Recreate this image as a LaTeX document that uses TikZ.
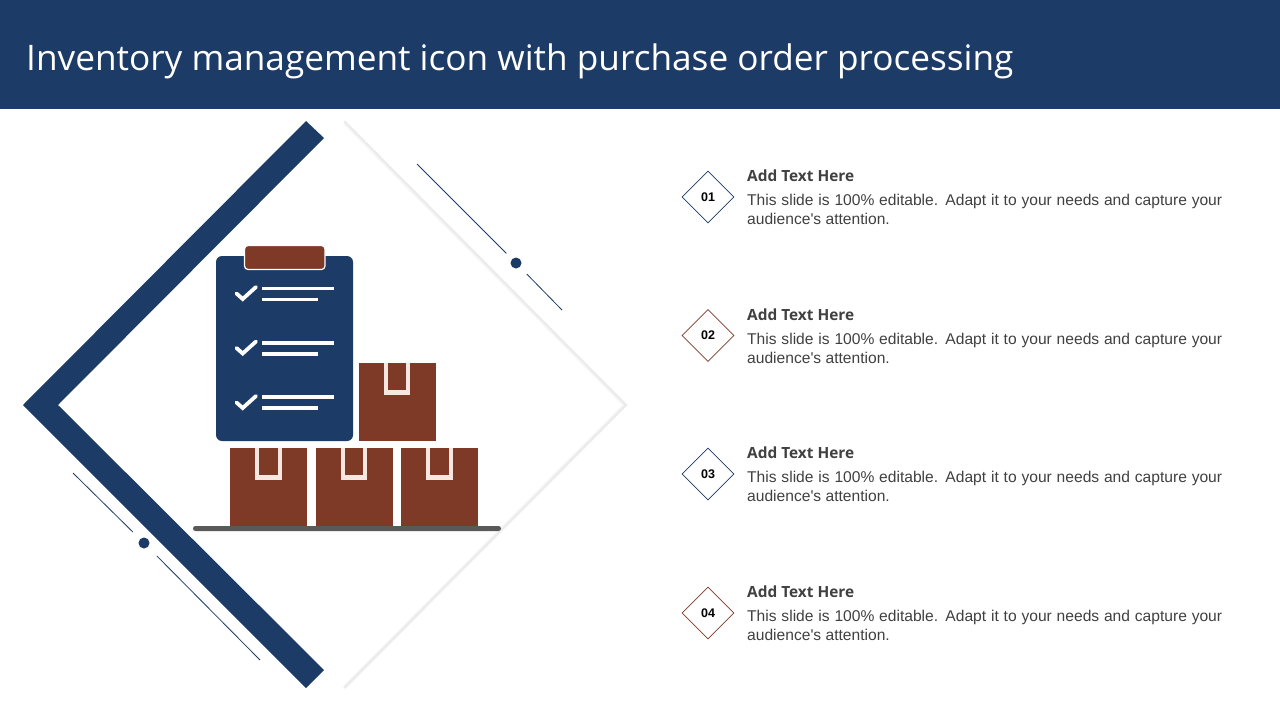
\documentclass[tikz,border=0pt]{standalone}
\usepackage{xcolor}
\usepackage{fontspec}
\setmainfont{Liberation Sans}
\newfontfamily\titlefont{Open Sans}
\usetikzlibrary{shapes.geometric}
\definecolor{navy}{HTML}{1C3B66}
\definecolor{rust}{HTML}{7F3A27}
\definecolor{ink}{HTML}{404040}
\definecolor{tapeline}{HTML}{F6E8E0}
\tikzstyle{boxbig} = [fill=rust, inner sep=0, minimum width=77, minimum height=78, anchor=north west]
\tikzstyle{tapeout} = [fill=tapeline, inner sep=0, minimum width=26.7, minimum height=31.3, anchor=north]
\tikzstyle{tapein} = [fill=rust, inner sep=0, minimum width=18.7, minimum height=27, anchor=north]
\tikzstyle{rowline} = [draw=white, line width=3.4]
\tikzstyle{tick} = [draw=white, line width=3.8, line cap=round, line join=miter]
\tikzstyle{dotmark} = [circle, fill=navy, inner sep=0, minimum size=11, outer sep=8]
\tikzstyle{thin} = [draw=navy, line width=0.8]
\tikzstyle{edge} = [draw=black!8, line width=1.8]
\tikzstyle{badge} = [diamond, fill=white, line width=0.7, inner sep=0, minimum width=52, minimum height=52, font=\fontsize{12.5}{14}\selectfont\bfseries]
\tikzstyle{headtext} = [anchor=west, inner sep=0, text=ink, font=\titlefont\fontsize{15.4}{18}\selectfont\bfseries]
\tikzstyle{bodytext} = [anchor=north west, inner sep=0, text=ink, text width=475, align=justify, font=\fontsize{15.6}{19.4}\selectfont]

\begin{document}
\begin{tikzpicture}[x=1pt, y=-1pt]
\useasboundingbox (0,0) rectangle (1280,720);
\fill [navy] (0,0) rectangle (1280,109);
\node [anchor=west, inner sep=0, text=white, font=\titlefont\fontsize{35.2}{40}\selectfont] (title) at (26,61.5) {Inventory management icon with purchase order processing};

% big diamond
\draw [draw=black!4, line width=4] (345,123) -- (625,405) -- (345,687);
\draw [edge] (344,121) -- (626,405) -- (344,688);
\fill [navy] (306,121) -- (324,138) -- (58,405) -- (324,670) -- (306,688) -- (23,405) -- cycle;

% thin lines with dots
\coordinate (topa) at (417,164);
\coordinate (topb) at (562,310);
\node [dotmark] (dottop) at (516,263) {};
\draw [thin] (topa) -- (dottop);
\draw [thin, shorten <=2] (dottop) -- (topb);
\coordinate (lowa) at (73,473);
\coordinate (lowb) at (260,660);
\node [dotmark] (dotlow) at (144,543) {};
\draw [thin, shorten >=2] (lowa) -- (dotlow);
\draw [thin, shorten <=4.7] (dotlow) -- (lowb);

% clipboard
\fill [navy, rounded corners=6] (216,256) rectangle (353,441);
\fill [rust, draw=white, line width=1.2, rounded corners=3.5] (244.5,245.5) rectangle (325,269.5);
\draw [tick] (236.5,293.5) -- (242.7,299) -- (256,287);
\draw [rowline] (262.3,288.7) -- (334,288.7);
\draw [rowline] (262.3,299.7) -- (318,299.7);
\draw [tick] (236.5,348) -- (242.7,353.5) -- (256,341.5);
\draw [rowline] (262.3,343) -- (334,343);
\draw [rowline] (262.3,354) -- (318,354);
\draw [tick] (236.5,402.5) -- (242.7,408) -- (256,396);
\draw [rowline] (262.3,397) -- (334,397);
\draw [rowline] (262.3,408) -- (318,408);

% boxes
\node [boxbig] (boxtop) at (358.3,363) {};
\node [tapeout] at (boxtop.north) {};
\node [tapein] at (boxtop.north) {};
\node [boxbig] (boxa) at (230,448) {};
\node [tapeout] at (boxa.north) {};
\node [tapein] at (boxa.north) {};
\node [boxbig] (boxb) at (315.3,448) {};
\node [tapeout] at (boxb.north) {};
\node [tapein] at (boxb.north) {};
\node [boxbig] (boxc) at (401,448) {};
\node [tapeout] at (boxc.north) {};
\node [tapein] at (boxc.north) {};
\fill [black!65, rounded corners=2.4] (193,526) rectangle (501,531);

% list
\node [badge, draw=navy] (one) at (708,197) {01};
\node [headtext] (oneh) at (747,175.5) {Add Text Here};
\node [bodytext] (onet) at (747,194) {This slide is 100\% editable. Adapt it to your needs and capture your audience\textquotesingle s attention.};
\node [badge, draw=rust] (two) at (708,335.5) {02};
\node [headtext] (twoh) at (747,314.5) {Add Text Here};
\node [bodytext] (twot) at (747,333) {This slide is 100\% editable. Adapt it to your needs and capture your audience\textquotesingle s attention.};
\node [badge, draw=navy] (three) at (708,474) {03};
\node [headtext] (threeh) at (747,452.5) {Add Text Here};
\node [bodytext] (threet) at (747,471) {This slide is 100\% editable. Adapt it to your needs and capture your audience\textquotesingle s attention.};
\node [badge, draw=rust] (four) at (708,613) {04};
\node [headtext] (fourh) at (747,591.5) {Add Text Here};
\node [bodytext] (fourt) at (747,610) {This slide is 100\% editable. Adapt it to your needs and capture your audience\textquotesingle s attention.};
\end{tikzpicture}
\end{document}
